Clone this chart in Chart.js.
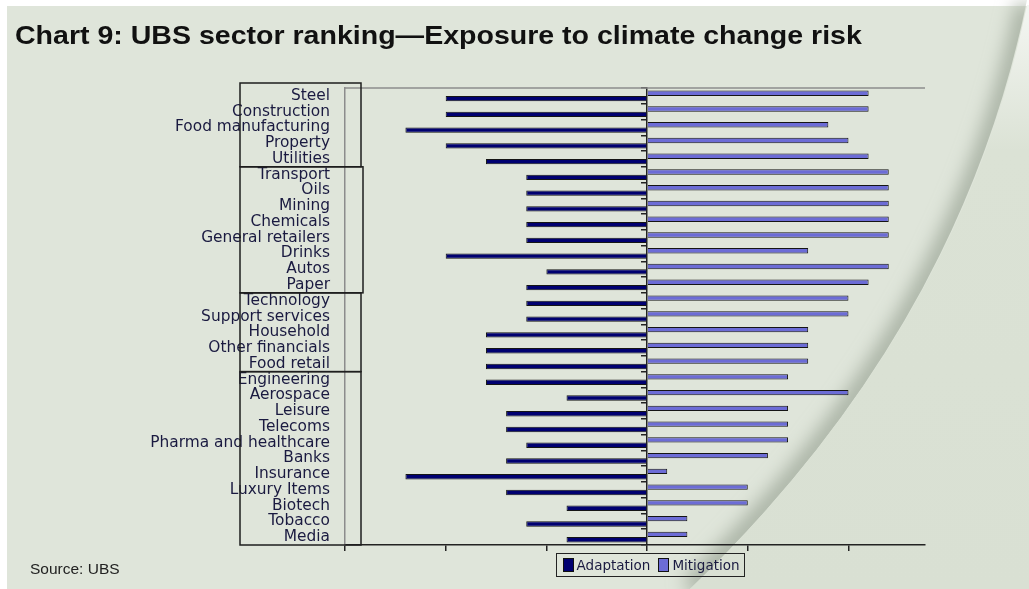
<!DOCTYPE html>
<html>
<head>
<meta charset="utf-8">
<script src="https://cdn.jsdelivr.net/npm/chart.js@4.4.1/dist/chart.umd.min.js"></script>
<style>
  html, body { margin: 0; padding: 0; background: #fff; }
  #wrap { position: relative; width: 1029px; height: 589px; overflow: hidden; }
  #bg, #chart { position: absolute; left: 0; top: 0; }
  #title { position: absolute; left: 15px; top: 21px; font: bold 25px "Liberation Sans", Arial, sans-serif; color: #111;
           white-space: nowrap; transform-origin: 0 0; }
  #source { position: absolute; left: 30px; top: 560px; font: 15.5px "Liberation Sans", Arial, sans-serif; color: #222; }
  #legend { position: absolute; top: 553px; height: 22px; border: 1.5px solid #222; padding: 0 4px;
            font: 13.5px "DejaVu Sans", sans-serif; color: #1a1a40; display: flex; align-items: center; white-space: nowrap; }
  #legend span.sw { display: inline-block; width: 9px; height: 12px; border: 1px solid #111; margin: 0 3px 0 2px; }
</style>
</head>
<body>
<div id="wrap">
  <svg id="bg" width="1029" height="589">
    <defs>
      <linearGradient id="flap" x1="0" y1="0" x2="0" y2="1">
        <stop offset="0" stop-color="#f4f6f2"/>
        <stop offset="0.25" stop-color="#dbe2d5"/>
        <stop offset="1" stop-color="#d9e0d3"/>
      </linearGradient>
      <filter id="soft" x="-20%" y="-20%" width="140%" height="140%"><feGaussianBlur stdDeviation="9"/></filter>
      <clipPath id="page"><path d="M0,0 L1027,0 Q960,330 690,589 L0,589 Z"/></clipPath>
    </defs>
    <rect x="7" y="6" width="1022" height="583" fill="#dfe5da"/>
    <g clip-path="url(#page)">
      <path d="M1027,5 Q960,330 690,589" fill="none" stroke="#a9b2a4" stroke-width="22" filter="url(#soft)"/>
    </g>
    <path d="M1027,5 Q960,330 690,589 L1029,589 L1029,5 Z" fill="url(#flap)"/>
  </svg>
  <div id="title">Chart 9: UBS sector ranking—Exposure to climate change risk</div>
  <canvas id="chart" width="1029" height="589"></canvas>
  <div id="legend"></div>
  <div id="source">Source: UBS</div>
</div>
<script>
// sectors, top to bottom as ranked by UBS
const sectors = [
  "Steel", "Construction", "Food manufacturing", "Property", "Utilities",
  "Transport", "Oils", "Mining", "Chemicals", "General retailers", "Drinks", "Autos", "Paper",
  "Technology", "Support services", "Household", "Other financials", "Food retail",
  "Engineering", "Aerospace", "Leisure", "Telecoms", "Pharma and healthcare", "Banks",
  "Insurance", "Luxury Items", "Biotech", "Tobacco", "Media"
];
const adaptation = [
  -2.0, -2.0, -2.4, -2.0, -1.6,
  -1.2, -1.2, -1.2, -1.2, -1.2, -2.0, -1.0, -1.2,
  -1.2, -1.2, -1.6, -1.6, -1.6,
  -1.6, -0.8, -1.4, -1.4, -1.2, -1.4,
  -2.4, -1.4, -0.8, -1.2, -0.8
];
const mitigation = [
  2.2, 2.2, 1.8, 2.0, 2.2,
  2.4, 2.4, 2.4, 2.4, 2.4, 1.6, 2.4, 2.2,
  2.0, 2.0, 1.6, 1.6, 1.6,
  1.4, 2.0, 1.4, 1.4, 1.4, 1.2,
  0.2, 1.0, 1.0, 0.4, 0.4
];
// index ranges of the boxed sector groups
const groups = [[0, 4], [5, 12], [13, 17], [18, 28]];
const xMin = -3, xMax = 2.76;

const navy = "#000070";
const violet = "#6c6cd6";

// stretch the title to the width it has in the original
const title = document.getElementById("title");
title.style.transform = "scaleX(" + (847 / title.offsetWidth) + ")";

const groupBoxes = {
  id: "groupBoxes",
  afterDraw(chart) {
    const { ctx, chartArea, scales } = chart;
    ctx.save();
    // grey frame on top of the plot
    ctx.strokeStyle = "#8c8c8c";
    ctx.lineWidth = 1.5;
    ctx.beginPath();
    ctx.moveTo(chartArea.left, chartArea.top);
    ctx.lineTo(chartArea.right, chartArea.top);
    ctx.stroke();

    ctx.strokeStyle = "#1e1e1e";
    ctx.lineWidth = 1.5;
    groups.forEach((g, i) => {
      let top = scales.y.getPixelForValue(g[0] - 0.5);
      const bottom = scales.y.getPixelForValue(g[1] + 0.5);
      if (i === 0) top -= 5;
      const left = chartArea.left - 105;
      const right = chartArea.left + (i === 1 ? 18 : 16);
      ctx.strokeRect(left, top, right - left, bottom - top);
    });
    ctx.restore();
  }
};

const chart = new Chart(document.getElementById("chart"), {
  type: "bar",
  data: {
    labels: sectors,
    datasets: [
      { label: "Mitigation", data: mitigation, backgroundColor: violet, borderColor: "#151515", borderWidth: 1 },
      { label: "Adaptation", data: adaptation, backgroundColor: navy, borderColor: "#151515", borderWidth: 1 }
    ]
  },
  options: {
    indexAxis: "y",
    responsive: false,
    animation: false,
    categoryPercentage: 0.68,
    barPercentage: 1,
    layout: { padding: { top: 88, right: 104, bottom: 38, left: 0 } },
    plugins: {
      legend: { display: false },
      tooltip: { enabled: false }
    },
    scales: {
      x: {
        min: xMin,
        max: xMax,
        ticks: { display: false, stepSize: 1, includeBounds: false },
        grid: { drawOnChartArea: false, drawTicks: true, tickLength: 6, color: "#222", lineWidth: 1.5 },
        border: { color: "#222", width: 1.5 },
        afterFit: (scale) => { scale.height = 6; }
      },
      y: {
        grid: { display: false, drawTicks: false },
        border: { color: "#8c8c8c", width: 1.5 },
        ticks: { padding: 15, autoSkip: false, color: "#1a1a40", font: { family: "DejaVu Sans", size: 15.4 } },
        afterFit: (scale) => { scale.width = 345; }
      },
      y2: {
        type: "category",
        position: { x: 0 },
        offset: true,
        grid: { offset: true, drawOnChartArea: false, tickLength: 5, color: "#222", lineWidth: 1.5 },
        border: { color: "#222", width: 1.5 },
        ticks: { display: false },
        afterFit: (scale) => { scale.width = 0; }
      }
    }
  },
  plugins: [groupBoxes]
});

// legend in the original order, centred under the zero line
const legend = document.getElementById("legend");
chart.data.datasets.slice().reverse().forEach((ds, i) => {
  const sw = document.createElement("span");
  sw.className = "sw";
  sw.style.background = ds.backgroundColor;
  if (i > 0) sw.style.marginLeft = "8px";
  legend.appendChild(sw);
  legend.appendChild(document.createTextNode(ds.label));
});
const zeroX = chart.scales.x.getPixelForValue(0);
legend.style.left = (zeroX + 3 - legend.offsetWidth / 2) + "px";
</script>
</body>
</html>
